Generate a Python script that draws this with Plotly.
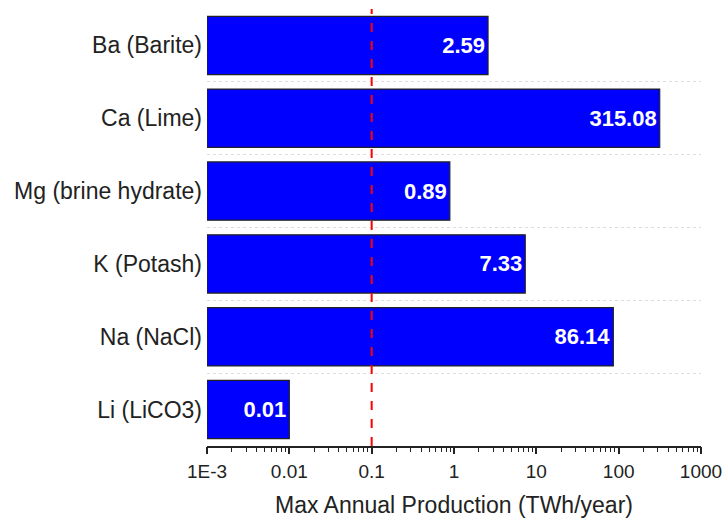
import plotly.graph_objects as go

categories = ["Ba (Barite)", "Ca (Lime)", "Mg (brine hydrate)", "K (Potash)", "Na (NaCl)", "Li (LiCO3)"]
values = [2.59, 315.08, 0.89, 7.33, 86.14, 0.01]
value_labels = ["2.59", "315.08", "0.89", "7.33", "86.14", "0.01"]
tick_vals = [0.001, 0.01, 0.1, 1, 10, 100, 1000]
tick_text = ["1E-3", "0.01", "0.1", "1", "10", "100", "1000"]
minor_digits = [2, 3, 4, 5, 6, 7, 8, 9]
threshold = 0.1
bar_base = 0.001

# all tick positions (decades + intermediate digits); labels only on decades
all_ticks = []
all_text = []
for t, lab in zip(tick_vals, tick_text):
    all_ticks.append(t)
    all_text.append(lab)
    if t != tick_vals[-1]:
        for d in minor_digits:
            all_ticks.append(d * t)
            all_text.append("")

fig = go.Figure()
fig.add_trace(go.Bar(
    y=categories,
    x=[v - bar_base for v in values],
    base=[bar_base] * len(values),
    orientation="h",
    width=0.8,
    marker=dict(color="#0000FF", line=dict(color="#222222", width=1.2)),
    text=value_labels,
    textposition="inside",
    insidetextanchor="end",
    textangle=0,
    textfont=dict(family="Liberation Sans, Arial", size=22, color="white", weight="bold"),
    cliponaxis=False,
    showlegend=False,
))
# invisible helper trace so the overlay axis (major ticks) is drawn
fig.add_trace(go.Scatter(
    x=[threshold], y=[categories[0]], xaxis="x2", mode="markers",
    marker=dict(opacity=0), hoverinfo="skip", showlegend=False,
))

fig.add_shape(type="line", xref="x", yref="paper", x0=threshold, x1=threshold, y0=0, y1=1,
              line=dict(color="#FF0000", width=2, dash="dash"), layer="above")

fig.update_layout(
    width=722, height=519,
    margin=dict(l=207, r=21, t=9, b=73, autoexpand=False),
    paper_bgcolor="white", plot_bgcolor="white",
    font=dict(family="Liberation Sans, Arial", color="#222222"),
    bargap=0.2,
    xaxis=dict(
        type="log", range=[-3, 3], automargin=False,
        tickmode="array", tickvals=all_ticks, ticktext=all_text,
        ticks="outside", ticklen=4, tickwidth=1.2, tickcolor="#222222",
        ticklabelstandoff=3, ticklabeloverflow="allow",
        showline=True, linecolor="#222222", linewidth=1.5,
        showgrid=False, zeroline=False,
        tickfont=dict(size=19, color="#222222"),
        title=dict(text="Max Annual Production (TWh/year)", font=dict(size=23, color="#222222"), standoff=16),
    ),
    xaxis2=dict(
        type="log", range=[-3, 3], automargin=False, overlaying="x", anchor="y", side="bottom",
        tickmode="array", tickvals=tick_vals, ticktext=[""] * len(tick_vals),
        ticks="outside", ticklen=7, tickwidth=1.5, tickcolor="#222222",
        showline=False, showgrid=False, zeroline=False,
    ),
    yaxis=dict(
        categoryorder="array", categoryarray=categories, autorange="reversed", automargin=False,
        tickson="boundaries", ticks="", showline=False,
        showgrid=True, gridcolor="#dddddd", griddash="dot", gridwidth=1,
        tickfont=dict(size=23, color="#222222"),
        ticklabelstandoff=4,
    ),
)

fig.write_html("out.html")
